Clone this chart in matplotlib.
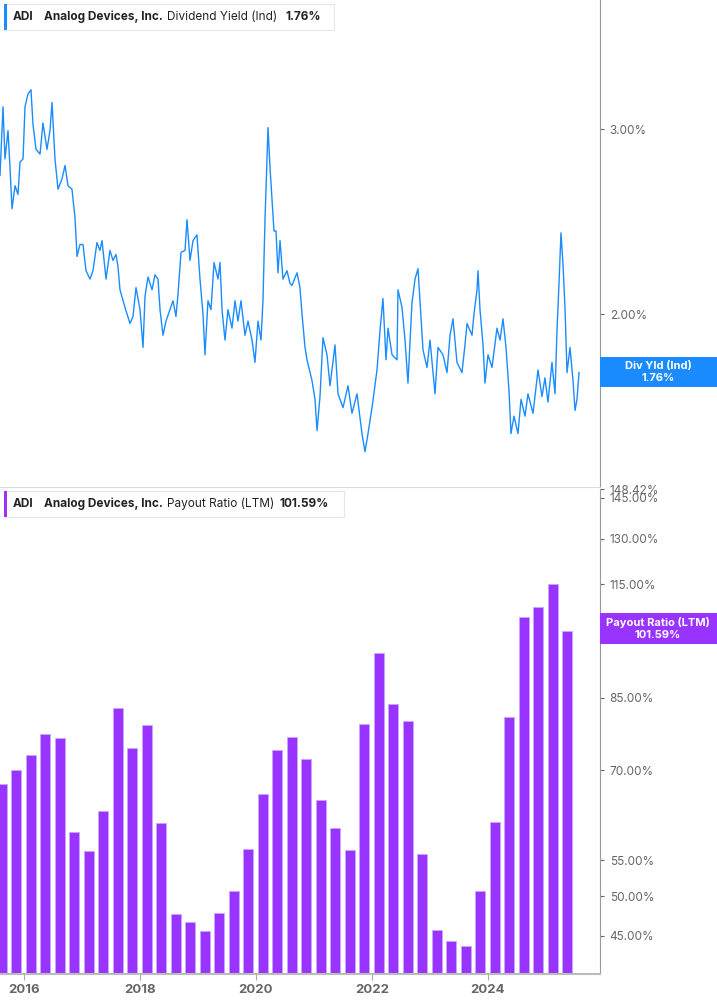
import numpy as np
import matplotlib.pyplot as plt
from matplotlib.ticker import FixedLocator, NullLocator

plt.rcParams['font.family'] = 'Inter'

# Dividend yield (%), decimal-year dates
yld_dates = [2015.590, 2015.642, 2015.676, 2015.728, 2015.762, 2015.797, 2015.849, 2015.900, 2015.935, 2015.987,
             2016.021, 2016.073, 2016.124, 2016.159, 2016.211, 2016.280, 2016.331, 2016.400, 2016.452, 2016.487,
             2016.538, 2016.590, 2016.659, 2016.711, 2016.762, 2016.831, 2016.883, 2016.918, 2016.969, 2017.021,
             2017.073, 2017.142, 2017.193, 2017.262, 2017.314, 2017.349, 2017.418, 2017.486, 2017.538, 2017.590,
             2017.624, 2017.659, 2017.745, 2017.831, 2017.883, 2017.935, 2018.004, 2018.056, 2018.090, 2018.142,
             2018.211, 2018.262, 2018.314, 2018.349, 2018.400, 2018.452, 2018.521, 2018.573, 2018.624, 2018.659,
             2018.711, 2018.780, 2018.814, 2018.866, 2018.918, 2018.986, 2019.038, 2019.090, 2019.124, 2019.176,
             2019.228, 2019.280, 2019.349, 2019.383, 2019.418, 2019.469, 2019.521, 2019.590, 2019.642, 2019.693,
             2019.745, 2019.814, 2019.866, 2019.935, 2019.986, 2020.038, 2020.090, 2020.124, 2020.159, 2020.193,
             2020.211, 2020.245, 2020.280, 2020.314, 2020.349, 2020.383, 2020.418, 2020.469, 2020.538, 2020.590,
             2020.624, 2020.711, 2020.762, 2020.797, 2020.849, 2020.883, 2020.969, 2021.021, 2021.056, 2021.107,
             2021.159, 2021.228, 2021.280, 2021.366, 2021.418, 2021.504, 2021.590, 2021.659, 2021.745, 2021.831,
             2021.883, 2021.935, 2022.004, 2022.090, 2022.142, 2022.193, 2022.245, 2022.280, 2022.349, 2022.435,
             2022.452, 2022.521, 2022.573, 2022.624, 2022.693, 2022.745, 2022.797, 2022.831, 2022.883, 2022.952,
             2023.004, 2023.090, 2023.142, 2023.228, 2023.297, 2023.349, 2023.400, 2023.469, 2023.555, 2023.607,
             2023.642, 2023.728, 2023.762, 2023.814, 2023.831, 2023.866, 2023.918, 2023.952, 2024.004, 2024.073,
             2024.159, 2024.211, 2024.262, 2024.314, 2024.366, 2024.400, 2024.452, 2024.521, 2024.573, 2024.642,
             2024.693, 2024.780, 2024.866, 2024.935, 2024.986, 2025.038, 2025.107, 2025.159, 2025.193, 2025.228,
             2025.262, 2025.297, 2025.331, 2025.366, 2025.418, 2025.469, 2025.504, 2025.538, 2025.573]
yld_values = [2.71, 3.15, 2.81, 2.99, 2.76, 2.52, 2.65, 2.60, 2.79, 2.81,
              3.15, 3.24, 3.27, 3.03, 2.87, 2.84, 3.04, 2.87, 2.99, 3.18,
              2.81, 2.63, 2.69, 2.77, 2.65, 2.63, 2.47, 2.27, 2.33, 2.33,
              2.20, 2.16, 2.20, 2.34, 2.30, 2.35, 2.16, 2.30, 2.25, 2.28,
              2.22, 2.11, 2.03, 1.96, 1.99, 2.12, 2.02, 1.86, 2.08, 2.17,
              2.11, 2.18, 2.16, 2.02, 1.91, 1.97, 2.02, 2.06, 1.99, 2.09,
              2.29, 2.30, 2.46, 2.25, 2.35, 2.38, 2.16, 2.00, 1.83, 2.06,
              2.02, 2.24, 2.16, 2.24, 2.02, 1.89, 2.02, 1.94, 2.06, 1.97,
              2.06, 1.91, 1.97, 1.89, 1.80, 1.97, 1.89, 2.06, 2.46, 2.80,
              3.01, 2.76, 2.57, 2.40, 2.40, 2.19, 2.35, 2.16, 2.20, 2.14,
              2.13, 2.19, 2.12, 2.00, 1.86, 1.81, 1.73, 1.66, 1.55, 1.67,
              1.90, 1.83, 1.71, 1.87, 1.68, 1.63, 1.71, 1.61, 1.68, 1.54,
              1.48, 1.54, 1.63, 1.77, 1.93, 2.07, 1.81, 1.94, 1.83, 1.81,
              2.11, 2.03, 1.89, 1.72, 2.05, 2.16, 2.21, 2.06, 1.85, 1.78,
              1.89, 1.68, 1.86, 1.83, 1.76, 1.91, 1.98, 1.80, 1.76, 1.87,
              1.96, 1.91, 2.00, 2.11, 2.20, 2.02, 1.87, 1.72, 1.83, 1.78,
              1.94, 1.89, 1.98, 1.86, 1.69, 1.54, 1.60, 1.54, 1.66, 1.60,
              1.68, 1.61, 1.77, 1.67, 1.74, 1.65, 1.80, 1.68, 1.93, 2.14,
              2.39, 2.23, 2.03, 1.76, 1.86, 1.73, 1.62, 1.66, 1.76]

# Payout ratio (LTM, %), quarterly
payout_dates = [2015.62 + 0.25 * i for i in range(40)]
payout_values = [67.5, 70.0, 72.9, 77.2, 76.2, 59.3, 56.4, 62.7, 82.7, 74.2,
                 78.9, 60.8, 47.6, 46.7, 45.5, 47.8, 50.7, 56.7, 65.6, 73.8,
                 76.4, 72.1, 64.7, 60.0, 56.6, 79.3, 95.8, 83.6, 79.9, 56.0,
                 45.7, 44.3, 43.8, 50.7, 61.0, 80.6, 105.3, 108.4, 115.2, 101.59]

year_ticks = [2016, 2018, 2020, 2022, 2024]
yld_ticks = [2.0, 3.0]
payout_ticks = [45, 50, 55, 70, 85, 100, 115, 130, 145, 148.42]

blue = '#1a8cff'
purple = '#9933ff'
grey = '#666666'
W, H = 717, 1005

fig = plt.figure(figsize=(W / 100, H / 100), dpi=100)
ax1 = fig.add_axes([0, 1 - 487 / H, 600 / W, 487 / H])
ax2 = fig.add_axes([0, 1 - 974 / H, 600 / W, 485 / H])

xlim = (2015.59, 2015.59 + 600 / 58)

# top panel
ax1.plot(yld_dates, yld_values, color=blue, lw=1.0)
ax1.set_yscale('log')
ax1.set_ylim(1.37, 3.98)
ax1.set_xlim(*xlim)
ax1.yaxis.set_major_locator(FixedLocator(yld_ticks))
ax1.yaxis.set_minor_locator(NullLocator())
ax1.set_yticklabels([f'{v:.2f}%' for v in yld_ticks])
ax1.set_xticks([])

# bottom panel
ax2.bar(payout_dates, payout_values, width=0.175, color=purple, edgecolor='#c9a6ff', linewidth=0.6)
ax2.set_yscale('log')
ax2.set_ylim(40.6, 148.42)
ax2.set_xlim(*xlim)
ax2.yaxis.set_major_locator(FixedLocator(payout_ticks))
ax2.yaxis.set_minor_locator(NullLocator())
ax2.set_yticklabels([f'{v:.2f}%' for v in payout_ticks])
ax2.set_xticks(year_ticks)
ax2.set_xticklabels([str(y) for y in year_ticks])

for ax in (ax1, ax2):
    ax.yaxis.tick_right()
    for s in ('left', 'top'):
        ax.spines[s].set_visible(False)
    ax.spines['right'].set_color('#999999')
    ax.spines['bottom'].set_color('#bbbbbb')
    ax.tick_params(axis='y', colors=grey, labelcolor=grey, length=3, width=0.8, labelsize=8.5, pad=4)
    ax.tick_params(axis='x', colors='#aaaaaa', labelcolor=grey, length=4, labelsize=9.5)
    for t in ax.get_xticklabels():
        t.set_fontweight('bold')
ax1.spines['bottom'].set_color('#dddddd')
ax2.spines['bottom'].set_linewidth(1.5)


def legend_box(ax, color, parts, width_px):
    x0, y0 = 4 / W, 1 - 4 / H
    fig.patches.append(plt.Rectangle((x0, y0 - 26 / H), width_px / W, 26 / H, transform=fig.transFigure,
                                     facecolor='white', edgecolor='#e6e6e6', lw=0.8, zorder=5))
    fig.patches.append(plt.Rectangle((x0, y0 - 26 / H), 3 / W, 26 / H, transform=fig.transFigure,
                                     facecolor=color, edgecolor='none', zorder=6))
    return y0 - 13 / H


def draw_legend(ax, color, top_px, parts, width_px):
    fig.patches.append(plt.Rectangle((4 / W, 1 - (top_px + 27) / H), width_px / W, 26 / H,
                                     transform=fig.transFigure, facecolor='white', edgecolor='#e6e6e6',
                                     lw=0.8, zorder=5))
    fig.patches.append(plt.Rectangle((4 / W, 1 - (top_px + 27) / H), 3 / W, 26 / H,
                                     transform=fig.transFigure, facecolor=color, edgecolor='none', zorder=6))
    yc = 1 - (top_px + 14) / H
    for x, txt, w in parts:
        fig.text(x / W, yc, txt, ha='left', va='center', fontsize=8.5, fontweight=w, color='#222222', zorder=7)


draw_legend(ax1, blue, 3, [(13, 'ADI', 'bold'), (44, 'Analog Devices, Inc.', 'bold'),
                           (167, 'Dividend Yield (Ind)', 'normal'), (286, '1.76%', 'bold')], 330)
draw_legend(ax2, purple, 490, [(13, 'ADI', 'bold'), (44, 'Analog Devices, Inc.', 'bold'),
                               (167, 'Payout Ratio (LTM)', 'normal'), (280, '101.59%', 'bold')], 340)


def badge(color, top_px, bottom_px, lines):
    fig.patches.append(plt.Rectangle((600 / W, 1 - bottom_px / H), 117 / W, (bottom_px - top_px) / H,
                                     transform=fig.transFigure, facecolor=color, edgecolor='none', zorder=8))
    fig.text(658 / W, 1 - (top_px + bottom_px) / 2 / H, lines, ha='center', va='center', fontsize=8,
             fontweight='bold', color='white', linespacing=1.2, zorder=9)


badge(blue, 357, 387, 'Div Yld (Ind)\n1.76%')
badge(purple, 613, 644, 'Payout Ratio (LTM)\n101.59%')

fig.savefig('out.png', dpi=100, facecolor='white')
